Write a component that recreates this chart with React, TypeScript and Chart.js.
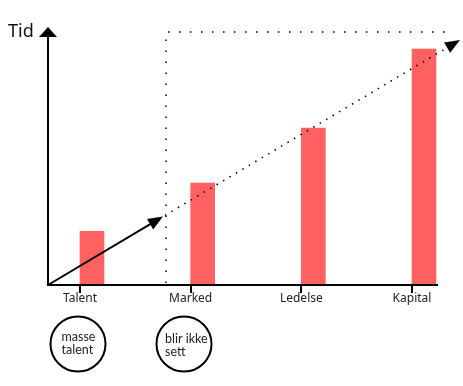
import React, { useEffect, useRef } from "react";
import { Chart, registerables } from "chart.js";

Chart.register(...registerables);

const categories = ["Talent", "Marked", "Ledelse", "Kapital"];
const tidValues = [2.1, 4.0, 6.15, 9.25];
const yMin = 0;
const yMax = 10;
const axisTitle = "Tid";
const note1 = ["masse", "talent"];
const note2 = ["blir ikke", "sett"];

const FONT = "'Noto Sans', sans-serif";
const NOTE_FONT = "Lato, 'Noto Sans', sans-serif";
const BAR_COLOR = "#ff6161";

function arrowHead(ctx: CanvasRenderingContext2D, fx: number, fy: number, tx: number, ty: number, len: number, half: number) {
  const ang = Math.atan2(ty - fy, tx - fx);
  const bx = tx - len * Math.cos(ang);
  const by = ty - len * Math.sin(ang);
  const px = -Math.sin(ang) * half;
  const py = Math.cos(ang) * half;
  ctx.beginPath();
  ctx.moveTo(tx, ty);
  ctx.lineTo(bx + px, by + py);
  ctx.lineTo(bx - px, by - py);
  ctx.closePath();
  ctx.fill();
}

const decor = {
  id: "decor",
  afterDatasetsDraw(chart: any) {
    const { ctx, chartArea: a } = chart;
    const meta = chart.getDatasetMeta(0);
    const ox = a.left - 44;
    const oy = a.bottom;
    ctx.save();
    ctx.strokeStyle = "#000";
    ctx.fillStyle = "#000";
    ctx.lineCap = "butt";

    // dotted guide (vertical + horizontal)
    const gx = a.left + 74;
    const gy = a.top + 2;
    ctx.lineWidth = 1.5;
    ctx.setLineDash([1.5, 9.5]);
    ctx.beginPath();
    ctx.moveTo(gx, oy - 2);
    ctx.lineTo(gx, gy);
    ctx.lineTo(a.right + 21, gy);
    ctx.stroke();

    // diagonal trend line
    const ex = a.right + 36;
    const ey = a.top + 10;
    const slope = (ey - oy) / (ex - ox);
    const mx = gx - 3;
    const my = oy + slope * (mx - ox);
    ctx.setLineDash([]);
    ctx.lineWidth = 2;
    ctx.beginPath();
    ctx.moveTo(ox, oy);
    ctx.lineTo(mx - 6, my - 6 * slope);
    ctx.stroke();
    arrowHead(ctx, ox, oy, mx, my, 15, 6);

    ctx.lineWidth = 1.5;
    ctx.setLineDash([1.5, 6]);
    ctx.beginPath();
    ctx.moveTo(mx + 2, my + 2 * slope);
    ctx.lineTo(ex - 10, ey - 10 * slope);
    ctx.stroke();
    ctx.setLineDash([]);
    arrowHead(ctx, ox, oy, ex, ey, 15, 6);

    // axes
    ctx.lineWidth = 2;
    ctx.beginPath();
    ctx.moveTo(ox, oy);
    ctx.lineTo(ox, a.top + 7);
    ctx.moveTo(ox - 1, oy);
    ctx.lineTo(a.right + 14, oy);
    ctx.stroke();
    ctx.beginPath();
    ctx.moveTo(ox, a.top - 3);
    ctx.lineTo(ox - 9, a.top + 7);
    ctx.lineTo(ox + 9, a.top + 7);
    ctx.closePath();
    ctx.fill();

    // tick marks at bar left edges
    ctx.lineWidth = 2;
    meta.data.forEach((bar: any) => {
      const p = bar.getProps(["x", "width"], true);
      const tx = Math.round(p.x - p.width / 2);
      ctx.beginPath();
      ctx.moveTo(tx, oy);
      ctx.lineTo(tx, oy + 8);
      ctx.stroke();
    });

    // axis title
    ctx.fillStyle = "#111";
    ctx.font = `18px ${FONT}`;
    ctx.textAlign = "left";
    ctx.textBaseline = "alphabetic";
    ctx.fillText(axisTitle, 8, a.top + 7);

    // notes in circles
    const b0 = meta.data[0].getProps(["x", "width"], true);
    const notes = [
      { lines: note1, cx: b0.x - b0.width / 2 - 2, tx: -16.5, ty: -7 },
      { lines: note2, cx: gx + 18, tx: -19, ty: -5 },
    ];
    notes.forEach((n) => {
      const cy = oy + 59;
      ctx.lineWidth = 2;
      ctx.strokeStyle = "#000";
      ctx.beginPath();
      ctx.arc(n.cx, cy, 27.5, 0, Math.PI * 2);
      ctx.stroke();
      ctx.fillStyle = "#222";
      ctx.font = `12.5px ${NOTE_FONT}`;
      ctx.textBaseline = "middle";
      ctx.textAlign = "left";
      n.lines.forEach((t, i) => {
        ctx.fillText(t, n.cx + n.tx, cy + n.ty + i * 13);
      });
    });
    ctx.restore();
  },
};

export default function App() {
  const ref = useRef<HTMLCanvasElement>(null);
  useEffect(() => {
    document.body.style.margin = "0";
    const chart = new Chart(ref.current!, {
      type: "bar",
      data: {
        labels: categories,
        datasets: [
          {
            data: tidValues,
            backgroundColor: BAR_COLOR,
            borderWidth: 0,
            barThickness: 24,
            clip: false as any,
          },
        ],
      },
      options: {
        animation: false,
        responsive: false,
        layout: { padding: { top: 30, bottom: 61, left: 92, right: 39 } },
        plugins: { legend: { display: false }, tooltip: { enabled: false } },
        scales: {
          x: {
            type: "category",
            offset: false,
            grid: { display: false, drawTicks: false },
            border: { display: false },
            ticks: {
              labelOffset: -12,
              padding: 6,
              autoSkip: false,
              maxRotation: 0,
              color: "#222",
              font: { family: FONT, size: 12 },
            },
            afterFit: (s: any) => {
              s.height = 40;
            },
          },
          y: {
            display: false,
            min: yMin,
            max: yMax,
          },
        },
      },
      plugins: [decor],
    });
    return () => chart.destroy();
  }, []);
  return (
    <div style={{ position: "fixed", left: 0, top: 0, width: 463, height: 386, background: "#fff" }}>
      <canvas ref={ref} width={463} height={386} style={{ display: "block" }} />
    </div>
  );
}
